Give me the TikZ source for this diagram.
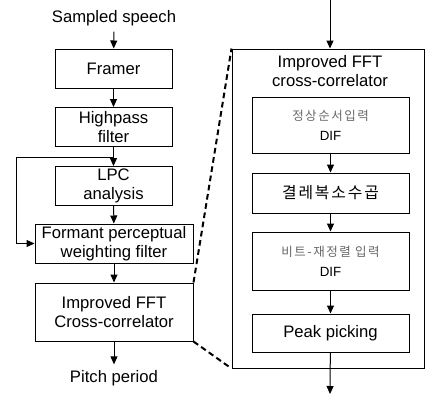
\documentclass[tikz,border=0pt]{standalone}
\usepackage{fontspec}
\setmainfont{Liberation Sans}
\newfontfamily\kr[LetterSpace=12]{Noto Sans CJK KR}
\newcommand\krsmall[1]{{\fontsize{7.5}{9}\selectfont\kr\color{black!60}#1}}
\newcommand\difsmall{{\fontsize{8}{9}\selectfont DIF}}
\usetikzlibrary{arrows.meta}
\begin{document}
\begin{tikzpicture}[x=0.6pt, y=-0.6pt, font=\fontsize{10}{11.2}\selectfont,
  blk/.style={draw=black, line width=0.6pt, align=center, inner sep=1pt},
  lft/.style={blk, minimum width=70.2pt, minimum height=23.4pt},
  wide/.style={blk, minimum width=94.8pt, minimum height=23.4pt},
  inr/.style={blk, minimum width=94.2pt},
  arr/.style={line width=0.6pt, -{Triangle[length=4.8pt, width=4.2pt]}},
  zoomln/.style={line width=1.2pt, dash pattern=on 3.4pt off 2.2pt},
]
  \useasboundingbox (0,0) rectangle (425,394);
  % left chain
  \node (speech) at (114,18) {Sampled speech};
  \node[lft] (framer) at (113.5,68.5) {Framer};
  \node[lft] (hpf) at (113.5,127) {Highpass\\filter};
  \node[lft] (lpc) at (113.5,186) {LPC\\analysis};
  \node[wide] (formant) at (114,243.5) {Formant perceptual\\weighting filter};
  \node[wide, minimum height=34.8pt] (fft) at (114,312) {Improved FFT\\Cross-correlator};
  \node (pitch) at (114,378) {Pitch period};
  \draw[arr] (speech) -- (framer);
  \draw[arr] (framer) -- (hpf);
  \draw[arr] (hpf) -- (lpc);
  \draw[arr] (lpc) -- (formant);
  \draw[arr] (formant) -- (fft);
  \draw[arr] (fft) -- (pitch);
  \coordinate (tap) at (113.5,157);
  \coordinate (fb) at (16,157);
  \draw[arr] (tap) -- (fb) |- (formant.west);
  % expanded correlator
  \node[blk, minimum width=115.2pt, minimum height=191.4pt] (corr) at (328,208.5) {};
  \node[align=center] (title) at (330,71) {Improved FFT\\cross-correlator};
  \node[inr, minimum height=33.6pt] (dif1) at (330.5,125) {\krsmall{정상순서입력}\\[1pt]\difsmall};
  \node[inr, minimum height=24pt] (mult) at (330.5,193) {{\fontsize{9.5}{11}\selectfont\kr 결레복소수곱}};
  \node[inr, minimum height=34.8pt] (dif2) at (330.5,261) {\krsmall{비트-재정렬 입력}\\[1pt]\difsmall};
  \node[inr, minimum height=22.8pt] (peak) at (330.5,333) {Peak picking};
  \coordinate (in) at (330,0);
  \coordinate (out) at (330,394);
  \draw[arr] (in) -- (in |- corr.north);
  \draw[arr] (dif1) -- (mult);
  \draw[arr] (mult) -- (dif2);
  \draw[arr] (dif2) -- (peak);
  \draw[arr] (peak) -- (out);
  % zoom lines
  \draw[zoomln] (fft.north east) -- (corr.north west);
  \draw[zoomln] (fft.south east) -- (corr.south west);
\end{tikzpicture}
\end{document}
